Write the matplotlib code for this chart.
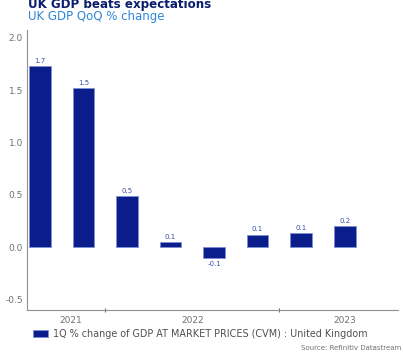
import matplotlib.pyplot as plt
import numpy as np

quarters = ['Q3 2021', 'Q4 2021', 'Q1 2022', 'Q2 2022', 'Q3 2022', 'Q4 2022', 'Q1 2023', 'Q2 2023']
gdp_qoq = [1.73, 1.52, 0.49, 0.05, -0.10, 0.12, 0.13, 0.20]
value_labels = ['1.7', '1.5', '0.5', '0.1', '-0.1', '0.1', '0.1', '0.2']
years = ['2021', '2022', '2023']
year_centers = [0.7, 3.5, 7.0]
year_bounds = [1.5, 5.5]

fig = plt.figure(figsize=(4.03, 3.52), dpi=100)
ax = fig.add_axes([0.067, 0.119, 0.921, 0.796])

x = np.arange(len(gdp_qoq))
bar_color = '#0b1d8a'
ax.bar(x, gdp_qoq, 0.5, color=bar_color, edgecolor='#7f8fd6', linewidth=0.6,
       label='1Q % change of GDP AT MARKET PRICES (CVM) : United Kingdom')

# value labels above / below bars
for xi, v, lab in zip(x, gdp_qoq, value_labels):
    if v >= 0:
        ax.text(xi, v + 0.02, lab, ha='center', va='bottom', fontsize=5, color='#3a4fb0')
    else:
        ax.text(xi, v - 0.03, lab, ha='center', va='top', fontsize=5, color='#3a4fb0')

ax.set_xlim(-0.3, 8.23)
ax.set_ylim(-0.603, 2.077)
ax.set_yticks([-0.5, 0.0, 0.5, 1.0, 1.5, 2.0])
ax.set_yticklabels(['-0.5', '0.0', '0.5', '1.0', '1.5', '2.0'])
ax.tick_params(axis='y', length=0, labelsize=6.5, labelcolor='#707070', pad=3)

ax.set_xticks(year_bounds)
ax.set_xticklabels([])
ax.tick_params(axis='x', length=3, color='#707070', direction='inout')
for c, y in zip(year_centers, years):
    ax.text(c, -0.66, y, ha='center', va='top', fontsize=6.5, color='#707070')

for s in ['top', 'right']:
    ax.spines[s].set_visible(False)
for s in ['left', 'bottom']:
    ax.spines[s].set_color('#909090')
    ax.spines[s].set_linewidth(0.8)

fig.text(0.07, 0.978, 'UK GDP beats expectations', fontsize=8.6, fontweight='bold',
         color='#0b1d6e', va='baseline', ha='left')
fig.text(0.07, 0.953, 'UK GDP QoQ % change', fontsize=8.5, color='#2f86d6', va='center', ha='left')

ax.legend(loc='center left', bbox_to_anchor=(0.006, -0.085), frameon=False, fontsize=6.9,
          handlelength=1.6, handleheight=0.7, handletextpad=0.5, borderaxespad=0,
          labelcolor='#505050')
fig.text(0.995, 0.011, 'Source: Refinitiv Datastream', fontsize=5, color='#707070',
         ha='right', va='center')

fig.savefig('out.png', dpi=100)
